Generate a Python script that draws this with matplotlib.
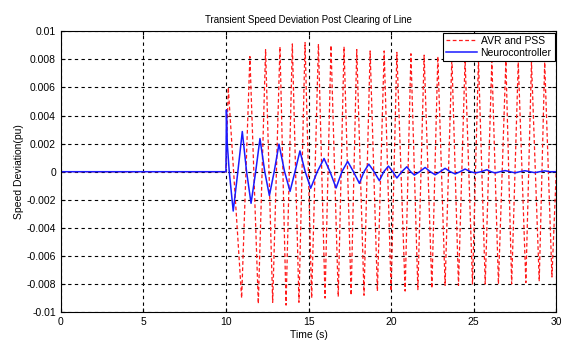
import numpy as np
import matplotlib.pyplot as plt

plt.rcParams['font.family'] = ['Liberation Sans', 'DejaVu Sans']

# AVR and PSS response (red dashed): start, extrema, end
avr_t = [0.0, 10.0, 10.14, 10.95, 11.45, 11.96, 12.4, 12.83, 13.27, 13.64,
         14.02, 14.42, 14.79, 15.19, 15.6, 16.0, 16.36, 16.8, 17.15, 17.58,
         17.92, 18.36, 18.73, 19.17, 19.58, 20.0, 20.35, 20.85, 21.2, 21.62,
         22.0, 22.47, 22.83, 23.27, 23.68, 24.08, 24.48, 24.93, 25.29, 25.7,
         26.1, 26.5, 26.95, 27.3, 27.7, 28.16, 28.5, 28.97, 29.3, 29.74, 30.0]
avr_w = [0.0, 0.0, 0.0060, -0.0090, 0.0082, -0.0094, 0.0087, -0.0093, 0.0089, -0.0095,
         0.0091, -0.0093, 0.0092, -0.0090, 0.0091, -0.0090, 0.0090, -0.0089, 0.0089, -0.0088,
         0.0087, -0.0088, 0.0086, -0.0085, 0.0086, -0.0085, 0.0085, -0.0085, 0.0084, -0.0084,
         0.0083, -0.0083, 0.0082, -0.0081, 0.0081, -0.0081, 0.0080, -0.0080, 0.0080, -0.0080,
         0.0079, -0.0080, 0.0079, -0.0080, 0.0078, -0.0079, 0.0078, -0.0078, 0.0078, -0.0075, 0.0]

# Neurocontroller response (blue solid): extrema and zero crossings
neuro_t = [0.0, 10.0, 10.03, 10.08, 10.2, 10.44, 10.72, 10.99, 11.25, 11.52, 11.8,
           12.06, 12.35, 12.63, 12.92, 13.21, 13.55, 13.88, 14.18, 14.48, 14.8,
           15.13, 15.53, 15.94, 16.3, 16.67, 17.02, 17.37, 17.72, 18.08, 18.36,
           18.65, 18.97, 19.29, 19.56, 19.84, 20.1, 20.35, 20.65, 20.95, 21.18,
           21.41, 21.73, 22.06, 22.37, 22.67, 22.97, 23.27, 23.58, 23.88, 24.18,
           24.48, 24.8, 25.1, 25.45, 25.8, 26.05, 26.3, 26.6, 26.9, 27.2, 27.5,
           27.8, 28.1, 28.4, 28.7, 29.0, 29.3, 29.6, 30.0]
neuro_w = [0.0, 0.0, 0.0044, 0.0020, 0.0, -0.0028, 0.0, 0.00286, 0.0, -0.00225, 0.0,
           0.00236, 0.0, -0.0017, 0.0, 0.00196, 0.0, -0.0014, 0.0, 0.00148, 0.0,
           -0.00118, 0.0, 0.00094, 0.0, -0.00116, 0.0, 0.00073, 0.0, -0.00083, 0.0,
           0.00054, 0.0, -0.00064, 0.0, 0.00040, 0.0, -0.00045, 0.0, 0.00035, 0.0,
           -0.00024, 0.0, 0.00030, 0.0, -0.00022, 0.0, 0.00024, 0.0, -0.00016, 0.0,
           0.00019, 0.0, -0.00009, 0.0, 0.00014, 0.0, -0.00009, 0.0, 0.00008, 0.0, -0.00008,
           0.0, 0.00007, 0.0, -0.00007, 0.0, 0.00006, 0.0, 0.0]

x_ticks = [0, 5, 10, 15, 20, 25, 30]
y_ticks = [0.01, 0.008, 0.006, 0.004, 0.002, 0, -0.002, -0.004, -0.006, -0.008, -0.01]
y_labels = ['0.01', '0.008', '0.006', '0.004', '0.002', '0',
            '-0.002', '-0.004', '-0.006', '-0.008', '-0.01']

fig = plt.figure(figsize=(5.63, 3.4), dpi=100)
ax = fig.add_axes([0.108, 0.082, 0.880, 0.826])

ax.plot(avr_t, avr_w, color='#ff1a1a', linestyle=(0, (3, 2)), linewidth=0.9, label='AVR and PSS')
ax.plot(neuro_t, neuro_w, color='#1a1aff', linewidth=1.1, label='Neurocontroller')

ax.set_xlim(0, 30)
ax.set_ylim(-0.01, 0.01)
ax.set_xticks(x_ticks)
ax.set_yticks(y_ticks)
ax.set_yticklabels(y_labels)
ax.tick_params(direction='in', length=3, labelsize=7.5, colors='black',
               top=True, right=True)
ax.grid(True, color='black', linestyle=(0, (3, 3)), linewidth=0.8)
for s in ax.spines.values():
    s.set_linewidth(0.8)

ax.set_title('Transient Speed Deviation Post Clearing of Line', fontsize=7, pad=6)
ax.set_xlabel('Time (s)', fontsize=7.5, labelpad=2)
ax.set_ylabel('Speed Deviation(pu)', fontsize=7.5, labelpad=2)

leg = ax.legend(loc='upper right', fontsize=7.5, frameon=True, fancybox=False,
                borderpad=0.3, handlelength=3, handletextpad=0.3, labelspacing=0.2,
                borderaxespad=0.15)
leg.get_frame().set_edgecolor('black')
leg.get_frame().set_linewidth(0.8)
leg.get_frame().set_alpha(1)

fig.savefig('out.png', dpi=100)
